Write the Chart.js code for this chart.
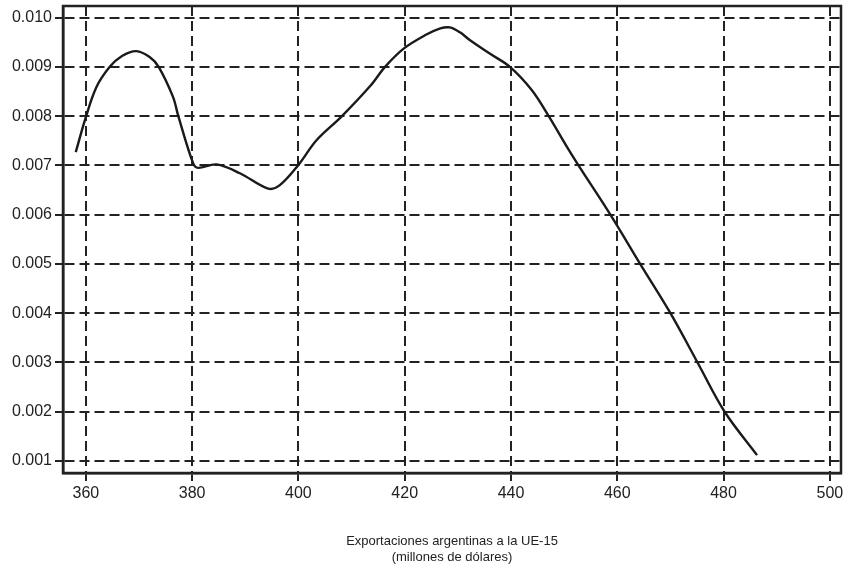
<!DOCTYPE html>
<html>
<head>
<meta charset="utf-8">
<script src="https://cdn.jsdelivr.net/npm/chart.js@4"></script>
<style>
  html, body { margin: 0; padding: 0; background: #fff; }
  #wrap { width: 845px; height: 576px; }
</style>
</head>
<body>
<div id="wrap"><canvas id="myChart"></canvas></div>
<script>
// density curve
const exportX = [358.1, 360.0, 362.0, 364.5, 366.8, 369.5, 372.0, 373.7, 376.4, 377.4, 380.2, 381.1, 384.6, 389.0, 394.3, 396.5, 400.0, 403.4, 408.1, 413.5, 416.3, 419.8, 423.8, 426.7, 428.5, 430.4, 432.3, 436.0, 439.8, 443.9, 447.1, 450.5, 452.7, 458.7, 464.3, 470.0, 475.1, 480.2, 486.3];
const densityY = [0.00727, 0.00798, 0.00859, 0.00900, 0.00922, 0.00932, 0.00920, 0.00900, 0.00839, 0.00800, 0.00704, 0.00695, 0.00702, 0.00684, 0.00653, 0.00660, 0.00701, 0.00751, 0.00799, 0.00861, 0.00900, 0.00937, 0.00964, 0.00978, 0.00980, 0.00970, 0.00954, 0.00927, 0.00900, 0.00853, 0.00800, 0.00738, 0.00700, 0.00600, 0.00500, 0.00400, 0.00300, 0.00200, 0.00112];

const xTicks = [360, 380, 400, 420, 440, 460, 480, 500];
const yTicks = [0.001, 0.002, 0.003, 0.004, 0.005, 0.006, 0.007, 0.008, 0.009, 0.010];
const xTitle = ['Exportaciones argentinas a la UE-15', '(millones de dólares)'];

const ctx = document.getElementById('myChart');
const ink = '#222';
const face = 'Liberation Sans, Arial, sans-serif';

let points = exportX.map((x, i) => ({x: x, y: densityY[i]}));

const frame = {
    id: 'frame',
    afterDraw(chart){
        const a = chart.chartArea;
        const c = chart.ctx;
        c.save();
        c.strokeStyle = ink;
        c.lineWidth = 2.5;
        c.strokeRect(a.left, a.top, a.right - a.left, a.bottom - a.top);
        c.restore();
    }
};

new Chart(ctx, {
    type: 'line',
    data: {
        datasets: [{
            data: points,
            borderColor: '#1a1a1a',
            borderWidth: 2.4,
            pointRadius: 0,
            tension: 0.35,
            fill: false
        }]
    },
    options: {
        responsive: true,
        maintainAspectRatio: false,
        animation: false,
        layout: { padding: { top: 6, right: 4, left: 0, bottom: 0 } },
        plugins: { legend: { display: false }, tooltip: { enabled: false } },
        scales: {
            x: {
                type: 'linear',
                min: 355.7,
                max: 502.1,
                afterBuildTicks: s => { s.ticks = xTicks.map(v => ({value: v})); },
                afterFit: s => { s.height = 103; s.paddingLeft = 0; s.paddingRight = 0; },
                grid: { color: ink, lineWidth: 2, tickLength: 8, tickColor: ink },
                border: { display: true, color: ink, width: 2.5, dash: [10, 5] },
                ticks: {
                    color: ink,
                    padding: 3,
                    maxRotation: 0,
                    font: { family: face, size: 16 },
                    callback: v => String(v)
                },
                title: {
                    display: true,
                    text: xTitle,
                    color: ink,
                    padding: { top: 0, bottom: 11 },
                    font: { family: face, size: 13, lineHeight: 1.2 }
                }
            },
            y: {
                min: 0.000757,
                max: 0.010235,
                afterBuildTicks: s => { s.ticks = yTicks.map(v => ({value: v})); },
                afterFit: s => { s.width = 63; s.paddingTop = 0; s.paddingBottom = 0; },
                grid: { color: ink, lineWidth: 2, tickLength: 8, tickColor: ink },
                border: { display: true, color: ink, width: 2.5, dash: [10, 5] },
                ticks: {
                    color: ink,
                    padding: 3,
                    font: { family: face, size: 16 },
                    callback: v => v.toFixed(3)
                }
            }
        }
    },
    plugins: [frame]
});
</script>
</body>
</html>
